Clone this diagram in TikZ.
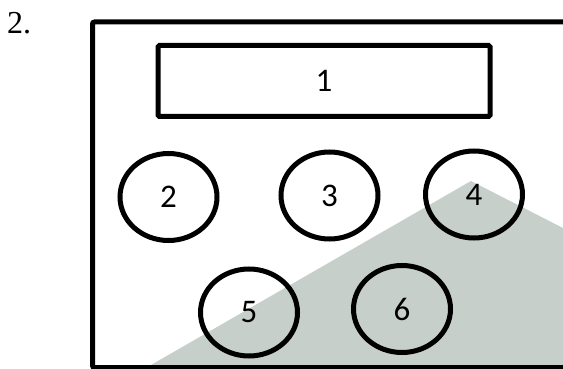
\documentclass[tikz,border=0pt]{standalone}
\usepackage{fontspec}
\setmainfont{Liberation Serif}
\newfontfamily\calfont{Carlito}
\usetikzlibrary{shapes.geometric}
\definecolor{greyfill}{RGB}{199,207,203}
\tikzset{
  ring/.style={draw=black, line width=5pt, ellipse, inner sep=0pt,
    minimum width=97pt, minimum height=87pt, font=\calfont\fontsize{33}{33}\selectfont},
  titlebox/.style={draw=black, line width=5pt, rectangle, rounded corners=1.5pt, inner sep=0pt,
    minimum width=332pt, minimum height=71pt, font=\calfont\fontsize{33}{33}\selectfont},
  frame/.style={draw=black, line width=5pt, rounded corners=2pt}
}
\begin{document}
\begin{tikzpicture}[x=1pt, y=-1pt]
\useasboundingbox (0,0) rectangle (563,369);
% shaded area
\fill[greyfill] (144,369) -- (471,181) -- (563,228) -- (563,369) -- cycle;
% outer frame, open at the right
\coordinate (ftr) at (566,22);
\coordinate (ftl) at (92.5,22);
\coordinate (fbl) at (92.5,367.5);
\coordinate (fbr) at (566,367.5);
\draw[frame] (ftr) -- (ftl) -- (fbl) -- (fbr);
% label
\node[anchor=base west, inner sep=0pt, font=\fontsize{32}{32}\selectfont] (lbl) at (7,33.5) {2.};
% nodes
\node[titlebox] (n1) at (324,81) {1};
\node[ring] (n2) at (168.5,197) {2};
\node[ring] (n3) at (329.5,195.5) {3};
\node[ring] (n4) at (474,194.5) {4};
\node[ring] (n5) at (249,312.5) {5};
\node[ring] (n6) at (402,309) {6};
\end{tikzpicture}
\end{document}
